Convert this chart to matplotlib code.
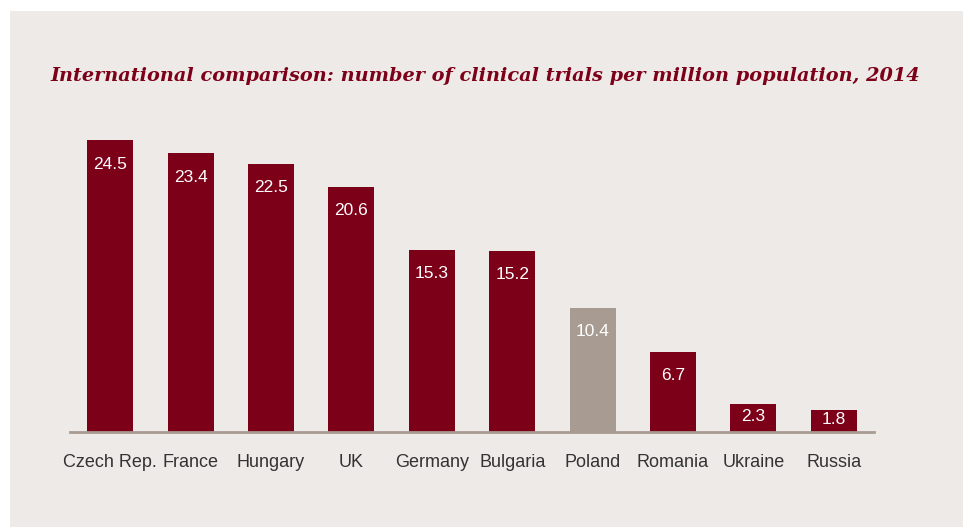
import numpy as np
import matplotlib.pyplot as plt
from matplotlib.patches import Rectangle

# Datos del gráfico
paises = ['Czech Rep.', 'France', 'Hungary', 'UK', 'Germany', 'Bulgaria',
          'Poland', 'Romania', 'Ukraine', 'Russia']
ensayos = [24.5, 23.4, 22.5, 20.6, 15.3, 15.2, 10.4, 6.7, 2.3, 1.8]
destacado = 'Poland'

titulo = 'International comparison: number of clinical trials per million population, 2014'

rojo = '#7D0019'
gris = '#A89B92'
fondo = '#EEEAE7'

fig = plt.figure(figsize=(9.67, 5.27), dpi=100)
fig.patch.set_facecolor('white')

# Panel de fondo
fig.patches.append(Rectangle((10 / 967, 0), 953 / 967, 516 / 527,
                             transform=fig.transFigure, facecolor=fondo,
                             edgecolor='none', zorder=-1))

ax = fig.add_axes([70 / 967, 95.3 / 527, 804 / 967, 333 / 527])
ax.set_facecolor('none')

x = np.arange(len(paises))
colores = [gris if p == destacado else rojo for p in paises]
ax.bar(x, ensayos, width=0.57, color=colores, zorder=2)

# Etiquetas de valor dentro de las barras
for xi, v in zip(x, ensayos):
    ax.text(xi, v - min(2.0, v * 0.45), f'{v}', ha='center', va='center',
            color='white', fontsize=12.5, family='Liberation Sans')

ax.set_xlim(-0.5, 9.5)
ax.set_ylim(0, 28)
ax.set_xticks(x)
ax.set_xticklabels(paises, fontsize=13, color='#333333', family='Liberation Sans')
ax.tick_params(axis='x', length=0, pad=16)
ax.set_yticks([])
for s in ['top', 'right', 'left']:
    ax.spines[s].set_visible(False)
ax.spines['bottom'].set_color(gris)
ax.spines['bottom'].set_linewidth(2)

fig.text(50 / 967, 1 - 76 / 527, titulo, ha='left', va='center',
         color=rojo, fontsize=13.9, family='DejaVu Serif',
         fontweight='bold', fontstyle='italic')

fig.savefig('out.png', dpi=100, facecolor=fig.get_facecolor())
